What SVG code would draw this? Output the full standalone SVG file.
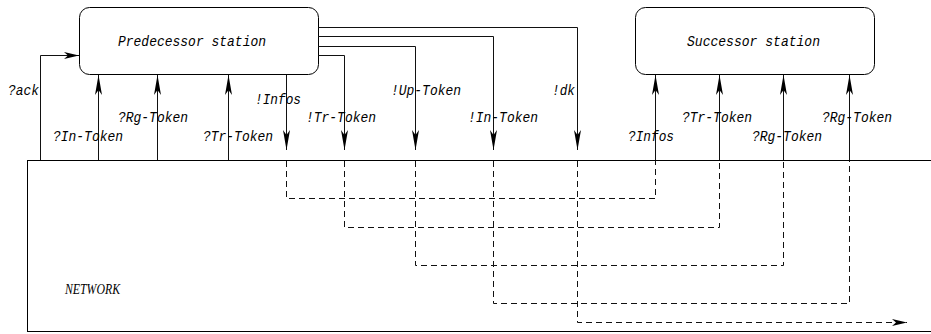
<svg xmlns="http://www.w3.org/2000/svg" width="931" height="334" viewBox="0 0 931 334">
  <style>
    .box { fill: #fff; stroke: #000; stroke-width: 1; }
    .wire { fill: none; stroke: #111; stroke-width: 1; }
    .dash { fill: none; stroke: #111; stroke-width: 1; stroke-dasharray: 6 4; }
    .lbl { font-family: "Liberation Mono", "DejaVu Sans Mono", monospace; font-style: italic; font-size: 15px; fill: #000; }
    .net { font-family: "Liberation Serif", "DejaVu Serif", serif; font-style: italic; font-size: 15px; fill: #000; }
  </style>
  <defs>
    <marker id="tipLong" markerUnits="userSpaceOnUse" viewBox="-20 -4 20 8" refX="0" refY="0" markerWidth="20" markerHeight="8" orient="auto">
      <path d="M0,0 L-20,-3.5 L-15,0 L-20,3.5 Z" fill="#000"/>
    </marker>
    <marker id="tipShort" markerUnits="userSpaceOnUse" viewBox="-15 -4 15 8" refX="0" refY="0" markerWidth="15" markerHeight="8" orient="auto">
      <path d="M0,0 L-15,-3.5 L-11,0 L-15,3.5 Z" fill="#000"/>
    </marker>
  </defs>

  <!-- network area: its right side runs past the frame -->
  <g id="network">
    <rect x="27.5" y="160.5" width="920" height="171" class="box"/>
    <text x="65" y="294" class="net" textLength="55" lengthAdjust="spacingAndGlyphs">NETWORK</text>
  </g>

  <g id="predecessor">
    <rect x="79.5" y="7.5" width="239" height="67" rx="10" ry="10" class="box"/>
    <text x="118" y="46" class="lbl" textLength="148" lengthAdjust="spacingAndGlyphs">Predecessor station</text>
  </g>

  <g id="successor">
    <rect x="635.5" y="7.5" width="239" height="67" rx="10" ry="10" class="box"/>
    <text x="687" y="46" class="lbl" textLength="133" lengthAdjust="spacingAndGlyphs">Successor station</text>
  </g>

  <g id="connectors">
    <!-- inputs of the predecessor -->
    <path d="M40.5,160 V55.5 H79" class="wire" marker-end="url(#tipShort)"/>
    <path d="M98.5,160 V75" class="wire" marker-end="url(#tipLong)"/>
    <path d="M157.5,160 V75" class="wire" marker-end="url(#tipLong)"/>
    <path d="M228.5,160 V75" class="wire" marker-end="url(#tipLong)"/>

    <!-- outputs of the predecessor -->
    <path d="M286.5,75 V150" class="wire" marker-end="url(#tipLong)"/>
    <path d="M318,55.5 H344.5 V150" class="wire" marker-end="url(#tipLong)"/>
    <path d="M318,46.5 H415.5 V150" class="wire" marker-end="url(#tipLong)"/>
    <path d="M318,36.5 H493.5 V150" class="wire" marker-end="url(#tipLong)"/>
    <path d="M318,27.5 H577.5 V150" class="wire" marker-end="url(#tipLong)"/>

    <!-- inputs of the successor -->
    <path d="M655.5,160 V75" class="wire" marker-end="url(#tipLong)"/>
    <path d="M719.5,160 V75" class="wire" marker-end="url(#tipLong)"/>
    <path d="M783.5,160 V75" class="wire" marker-end="url(#tipLong)"/>
    <path d="M849.5,160 V75" class="wire" marker-end="url(#tipLong)"/>

    <!-- paths through the network -->
    <path d="M286.5,161 V198.5 H655.5 V161" class="dash"/>
    <path d="M344.5,161 V227.5 H719.5 V161" class="dash"/>
    <path d="M415.5,161 V265.5 H783.5 V161" class="dash"/>
    <path d="M493.5,161 V303.5 H849.5 V161" class="dash"/>
    <path d="M577.5,161 V322.5 H907" class="dash" marker-end="url(#tipShort)"/>
  </g>

  <g id="labels">
    <text x="8" y="95" class="lbl" textLength="31" lengthAdjust="spacingAndGlyphs">?ack</text>
    <text x="53" y="141" class="lbl" textLength="70" lengthAdjust="spacingAndGlyphs">?In-Token</text>
    <text x="118" y="122" class="lbl" textLength="70" lengthAdjust="spacingAndGlyphs">?Rg-Token</text>
    <text x="203" y="141" class="lbl" textLength="70" lengthAdjust="spacingAndGlyphs">?Tr-Token</text>
    <text x="255" y="104" class="lbl" textLength="46" lengthAdjust="spacingAndGlyphs">!Infos</text>
    <text x="306" y="122" class="lbl" textLength="70" lengthAdjust="spacingAndGlyphs">!Tr-Token</text>
    <text x="391" y="95" class="lbl" textLength="70" lengthAdjust="spacingAndGlyphs">!Up-Token</text>
    <text x="468" y="122" class="lbl" textLength="70" lengthAdjust="spacingAndGlyphs">!In-Token</text>
    <text x="552" y="95" class="lbl" textLength="23" lengthAdjust="spacingAndGlyphs">!dk</text>
    <text x="628" y="141" class="lbl" textLength="46" lengthAdjust="spacingAndGlyphs">?Infos</text>
    <text x="682" y="122" class="lbl" textLength="70" lengthAdjust="spacingAndGlyphs">?Tr-Token</text>
    <text x="752" y="141" class="lbl" textLength="70" lengthAdjust="spacingAndGlyphs">?Rg-Token</text>
    <text x="822" y="122" class="lbl" textLength="70" lengthAdjust="spacingAndGlyphs">?Rg-Token</text>
  </g>
</svg>
